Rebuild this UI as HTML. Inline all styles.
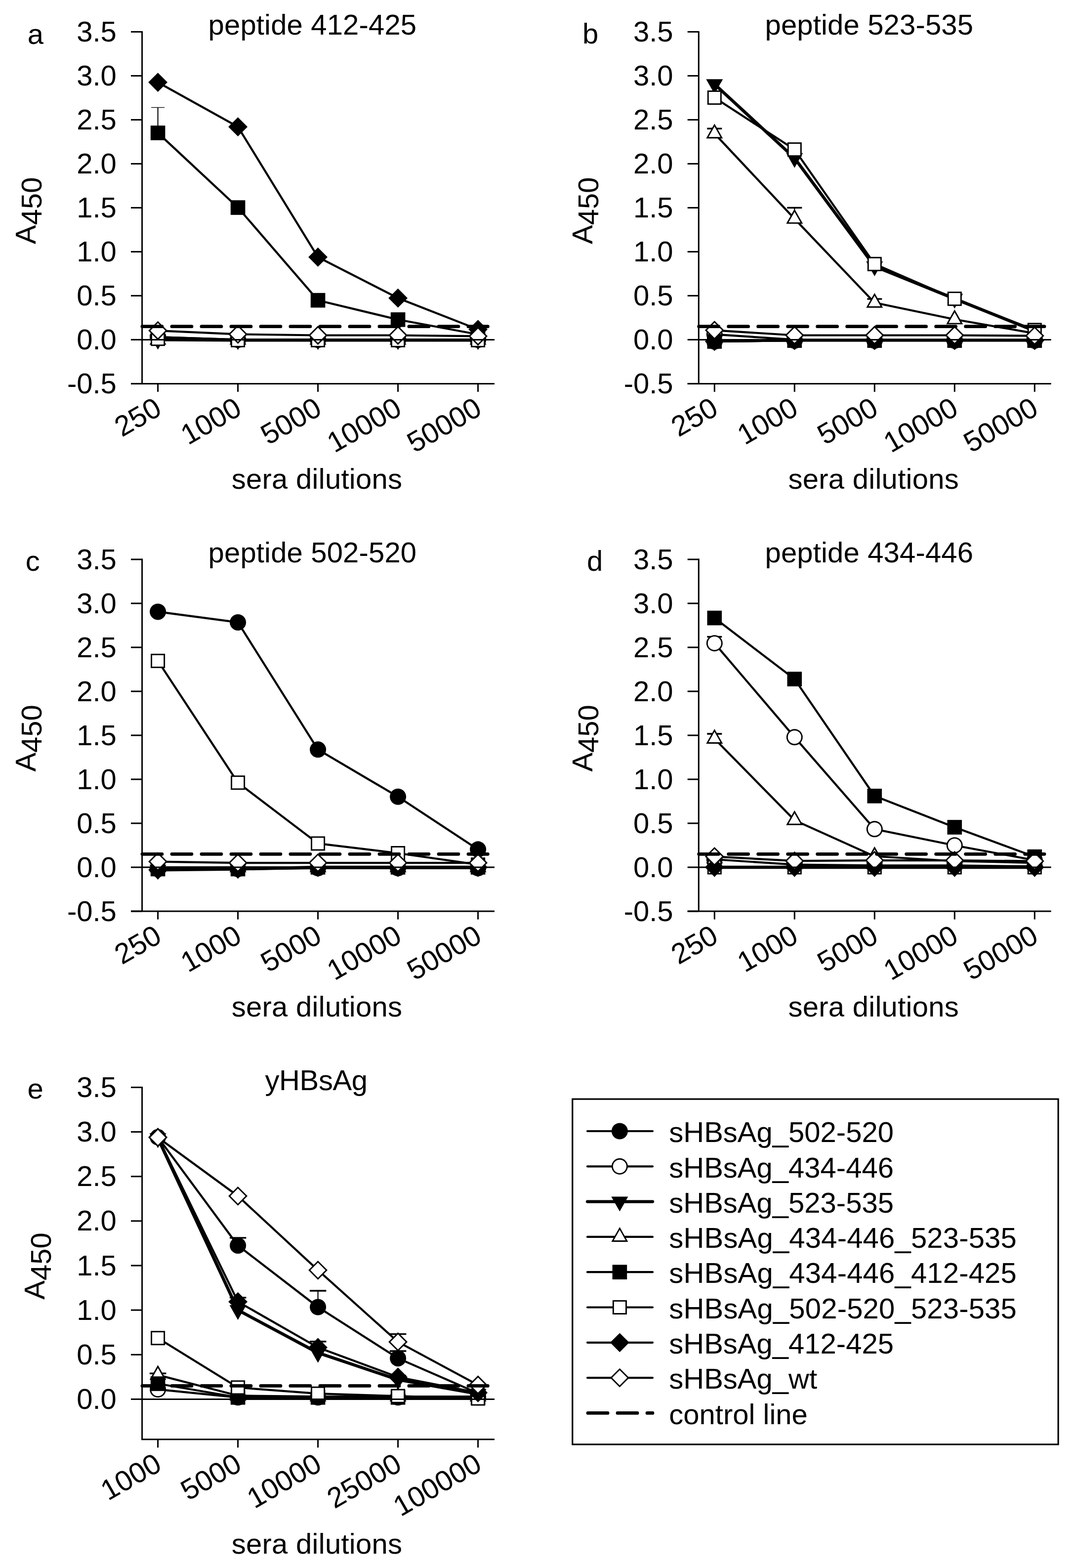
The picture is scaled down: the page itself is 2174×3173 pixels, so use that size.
<!DOCTYPE html>
<html><head><meta charset="utf-8"><title>ELISA panels</title>
<style>
html,body{margin:0;padding:0;background:#fff;}
svg{display:block;}
text{font-family:"Liberation Sans", Arial, sans-serif;fill:#000;font-size:58px;}
.ln{fill:none;stroke:#000;stroke-width:4.2;stroke-linejoin:round;}
.ln2{fill:none;stroke:#000;stroke-width:6.3;stroke-linejoin:round;}
.ax{fill:none;stroke:#000;stroke-width:3;}
.dash{fill:none;stroke:#000;stroke-width:6.7;stroke-linecap:round;stroke-dasharray:40.1 19.9;}
</style></head>
<body>
<svg width="2174" height="3173" viewBox="0 0 2174 3173">
<rect width="2174" height="3173" fill="#fff"/>
<path d="M319.6,682.1L481.6,687.4L643.6,687.4L805.6,687.4L967.6,687.4" class="ln"/>
<circle cx="319.60" cy="682.06" r="16.5"/>
<circle cx="481.60" cy="687.40" r="16.5"/>
<circle cx="643.60" cy="687.40" r="16.5"/>
<circle cx="805.60" cy="687.40" r="16.5"/>
<circle cx="967.60" cy="687.40" r="16.5"/>
<path d="M319.6,682.1L481.6,687.4L643.6,687.4L805.6,687.4L967.6,687.4" class="ln"/>
<circle cx="319.60" cy="682.06" r="16.5"/><circle cx="319.60" cy="682.06" r="13.60" fill="#fff"/>
<circle cx="481.60" cy="687.40" r="16.5"/><circle cx="481.60" cy="687.40" r="13.60" fill="#fff"/>
<circle cx="643.60" cy="687.40" r="16.5"/><circle cx="643.60" cy="687.40" r="13.60" fill="#fff"/>
<circle cx="805.60" cy="687.40" r="16.5"/><circle cx="805.60" cy="687.40" r="13.60" fill="#fff"/>
<circle cx="967.60" cy="687.40" r="16.5"/><circle cx="967.60" cy="687.40" r="13.60" fill="#fff"/>
<path d="M319.6,687.4L481.6,688.3L643.6,688.3L805.6,688.3L967.6,688.3" class="ln2"/>
<path d="M302.60,677.40L336.60,677.40L319.60,707.40Z"/>
<path d="M464.60,678.29L498.60,678.29L481.60,708.29Z"/>
<path d="M626.60,678.29L660.60,678.29L643.60,708.29Z"/>
<path d="M788.60,678.29L822.60,678.29L805.60,708.29Z"/>
<path d="M950.60,678.29L984.60,678.29L967.60,708.29Z"/>
<path d="M319.6,687.4L481.6,687.4L643.6,687.4L805.6,687.4L967.6,687.4" class="ln"/>
<path d="M302.60,697.40L336.60,697.40L319.60,667.40Z"/><path d="M307.58,694.50L331.62,694.50L319.60,673.28Z" fill="#fff"/>
<path d="M464.60,697.40L498.60,697.40L481.60,667.40Z"/><path d="M469.58,694.50L493.62,694.50L481.60,673.28Z" fill="#fff"/>
<path d="M626.60,697.40L660.60,697.40L643.60,667.40Z"/><path d="M631.58,694.50L655.62,694.50L643.60,673.28Z" fill="#fff"/>
<path d="M788.60,697.40L822.60,697.40L805.60,667.40Z"/><path d="M793.58,694.50L817.62,694.50L805.60,673.28Z" fill="#fff"/>
<path d="M950.60,697.40L984.60,697.40L967.60,667.40Z"/><path d="M955.58,694.50L979.62,694.50L967.60,673.28Z" fill="#fff"/>
<path d="M319.6,268.9L481.6,420.0L643.6,607.7L805.6,646.8L967.6,676.7" class="ln"/>
<path d="M319.6,268.9V217.5" stroke="#000" stroke-width="2.1"/>
<path d="M306.0,217.5H333.2" stroke="#000" stroke-width="1.3"/>
<rect x="304.80" y="254.12" width="29.6" height="29.6"/>
<rect x="466.80" y="405.24" width="29.6" height="29.6"/>
<rect x="628.80" y="592.86" width="29.6" height="29.6"/>
<rect x="790.80" y="632.02" width="29.6" height="29.6"/>
<rect x="952.80" y="661.92" width="29.6" height="29.6"/>
<path d="M319.6,685.6L481.6,688.3L643.6,688.3L805.6,688.3L967.6,688.3" class="ln"/>
<rect x="305.10" y="671.12" width="29.0" height="29.0"/><rect x="308.00" y="674.02" width="23.20" height="23.20" fill="#fff"/>
<rect x="467.10" y="673.79" width="29.0" height="29.0"/><rect x="470.00" y="676.69" width="23.20" height="23.20" fill="#fff"/>
<rect x="629.10" y="673.79" width="29.0" height="29.0"/><rect x="632.00" y="676.69" width="23.20" height="23.20" fill="#fff"/>
<rect x="791.10" y="673.79" width="29.0" height="29.0"/><rect x="794.00" y="676.69" width="23.20" height="23.20" fill="#fff"/>
<rect x="953.10" y="673.79" width="29.0" height="29.0"/><rect x="956.00" y="676.69" width="23.20" height="23.20" fill="#fff"/>
<path d="M319.6,166.6L481.6,256.6L643.6,520.3L805.6,603.2L967.6,666.6" class="ln"/>
<path d="M319.60,147.17L339.00,166.57L319.60,185.97L300.20,166.57Z"/>
<path d="M481.60,237.24L501.00,256.64L481.60,276.04L462.20,256.64Z"/>
<path d="M643.60,500.86L663.00,520.26L643.60,539.66L624.20,520.26Z"/>
<path d="M805.60,583.81L825.00,603.21L805.60,622.61L786.20,603.21Z"/>
<path d="M967.60,647.17L987.00,666.57L967.60,685.97L948.20,666.57Z"/>
<path d="M319.6,669.1L481.6,676.4L643.6,678.5L805.6,678.5L967.6,680.3" class="ln"/>
<path d="M319.60,649.67L339.00,669.07L319.60,688.47L300.20,669.07Z"/><path d="M319.60,653.77L334.90,669.07L319.60,684.37L304.30,669.07Z" fill="#fff"/>
<path d="M481.60,656.96L501.00,676.36L481.60,695.76L462.20,676.36Z"/><path d="M481.60,661.06L496.90,676.36L481.60,691.66L466.30,676.36Z" fill="#fff"/>
<path d="M643.60,659.10L663.00,678.50L643.60,697.90L624.20,678.50Z"/><path d="M643.60,663.20L658.90,678.50L643.60,693.80L628.30,678.50Z" fill="#fff"/>
<path d="M805.60,659.10L825.00,678.50L805.60,697.90L786.20,678.50Z"/><path d="M805.60,663.20L820.90,678.50L805.60,693.80L790.30,678.50Z" fill="#fff"/>
<path d="M967.60,660.88L987.00,680.28L967.60,699.68L948.20,680.28Z"/><path d="M967.60,664.98L982.90,680.28L967.60,695.58L952.30,680.28Z" fill="#fff"/>
<path d="M287.9,660.7H987.4" class="dash"/>
<path d="M287.6,687.4H1001.0" class="ax"/>
<path d="M287.6,62.9V776.4" class="ax"/>
<path d="M265.0,776.4H1001.0" class="ax"/>
<path d="M265.0,776.4H287.6" class="ax"/>
<text x="235.9" y="795.9" text-anchor="end">-0.5</text>
<path d="M265.0,687.4H287.6" class="ax"/>
<text x="235.9" y="706.9" text-anchor="end">0.0</text>
<path d="M265.0,598.4H287.6" class="ax"/>
<text x="235.9" y="617.9" text-anchor="end">0.5</text>
<path d="M265.0,509.4H287.6" class="ax"/>
<text x="235.9" y="528.9" text-anchor="end">1.0</text>
<path d="M265.0,420.4H287.6" class="ax"/>
<text x="235.9" y="439.9" text-anchor="end">1.5</text>
<path d="M265.0,331.4H287.6" class="ax"/>
<text x="235.9" y="350.9" text-anchor="end">2.0</text>
<path d="M265.0,242.4H287.6" class="ax"/>
<text x="235.9" y="261.9" text-anchor="end">2.5</text>
<path d="M265.0,153.4H287.6" class="ax"/>
<text x="235.9" y="172.9" text-anchor="end">3.0</text>
<path d="M265.0,64.4H287.6" class="ax"/>
<text x="235.9" y="83.9" text-anchor="end">3.5</text>
<path d="M319.6,776.4V792.9" class="ax"/>
<text transform="translate(330.6,836.9) rotate(-30)" text-anchor="end">250</text>
<path d="M481.6,776.4V792.9" class="ax"/>
<text transform="translate(492.6,836.9) rotate(-30)" text-anchor="end">1000</text>
<path d="M643.6,776.4V792.9" class="ax"/>
<text transform="translate(654.6,836.9) rotate(-30)" text-anchor="end">5000</text>
<path d="M805.6,776.4V792.9" class="ax"/>
<text transform="translate(816.6,836.9) rotate(-30)" text-anchor="end">10000</text>
<path d="M967.6,776.4V792.9" class="ax"/>
<text transform="translate(978.6,836.9) rotate(-30)" text-anchor="end">50000</text>
<text x="421.6" y="70.0" letter-spacing="0.16">peptide 412-425</text>
<text x="55.8" y="88.5">a</text>
<text x="468.7" y="989.1" letter-spacing="0.28">sera dilutions</text>
<text transform="translate(71.9,494.0) rotate(-90)">A<tspan dy="12">450</tspan></text>
<path d="M1446.3,691.0L1608.3,689.2L1770.3,689.2L1932.3,689.2L2094.3,689.2" class="ln"/>
<circle cx="1446.30" cy="690.96" r="16.5"/>
<circle cx="1608.30" cy="689.18" r="16.5"/>
<circle cx="1770.30" cy="689.18" r="16.5"/>
<circle cx="1932.30" cy="689.18" r="16.5"/>
<circle cx="2094.30" cy="689.18" r="16.5"/>
<path d="M1446.3,676.7L1608.3,687.4L1770.3,687.4L1932.3,687.4L2094.3,687.4" class="ln"/>
<circle cx="1446.30" cy="676.72" r="16.5"/><circle cx="1446.30" cy="676.72" r="13.60" fill="#fff"/>
<circle cx="1608.30" cy="687.40" r="16.5"/><circle cx="1608.30" cy="687.40" r="13.60" fill="#fff"/>
<circle cx="1770.30" cy="687.40" r="16.5"/><circle cx="1770.30" cy="687.40" r="13.60" fill="#fff"/>
<circle cx="1932.30" cy="687.40" r="16.5"/><circle cx="1932.30" cy="687.40" r="13.60" fill="#fff"/>
<circle cx="2094.30" cy="687.40" r="16.5"/><circle cx="2094.30" cy="687.40" r="13.60" fill="#fff"/>
<path d="M1446.3,170.3L1608.3,319.8L1770.3,538.9L1932.3,604.5L2094.3,669.6" class="ln2"/>
<path d="M1429.30,160.31L1463.30,160.31L1446.30,190.31Z"/>
<path d="M1591.30,309.83L1625.30,309.83L1608.30,339.83Z"/>
<path d="M1753.30,528.95L1787.30,528.95L1770.30,558.95Z"/>
<path d="M1915.30,594.45L1949.30,594.45L1932.30,624.45Z"/>
<path d="M2077.30,659.60L2111.30,659.60L2094.30,689.60Z"/>
<path d="M1446.3,270.2L1608.3,442.8L1770.3,612.6L1932.3,646.3L2094.3,674.6" class="ln"/>
<path d="M1446.3,270.2V260.2" stroke="#000" stroke-width="2.2"/>
<path d="M1431.3,260.2H1461.3" stroke="#000" stroke-width="3.4"/>
<path d="M1608.3,442.8V420.4" stroke="#000" stroke-width="2.2"/>
<path d="M1593.3,420.4H1623.3" stroke="#000" stroke-width="3.4"/>
<path d="M1770.3,612.6V605.0" stroke="#000" stroke-width="2.2"/>
<path d="M1755.3,605.0H1785.3" stroke="#000" stroke-width="3.4"/>
<path d="M1429.30,280.17L1463.30,280.17L1446.30,250.17Z"/><path d="M1434.28,277.27L1458.32,277.27L1446.30,256.05Z" fill="#fff"/>
<path d="M1591.30,452.83L1625.30,452.83L1608.30,422.83Z"/><path d="M1596.28,449.93L1620.32,449.93L1608.30,428.71Z" fill="#fff"/>
<path d="M1753.30,622.64L1787.30,622.64L1770.30,592.64Z"/><path d="M1758.28,619.74L1782.32,619.74L1770.30,598.52Z" fill="#fff"/>
<path d="M1915.30,656.28L1949.30,656.28L1932.30,626.28Z"/><path d="M1920.28,653.38L1944.32,653.38L1932.30,632.16Z" fill="#fff"/>
<path d="M2077.30,684.58L2111.30,684.58L2094.30,654.58Z"/><path d="M2082.28,681.68L2106.32,681.68L2094.30,660.47Z" fill="#fff"/>
<path d="M1446.3,691.0L1608.3,689.2L1770.3,689.2L1932.3,689.2L2094.3,689.2" class="ln"/>
<rect x="1431.50" y="676.16" width="29.6" height="29.6"/>
<rect x="1593.50" y="674.38" width="29.6" height="29.6"/>
<rect x="1755.50" y="674.38" width="29.6" height="29.6"/>
<rect x="1917.50" y="674.38" width="29.6" height="29.6"/>
<rect x="2079.50" y="674.38" width="29.6" height="29.6"/>
<path d="M1446.3,197.5L1608.3,302.6L1770.3,534.3L1932.3,604.6L2094.3,667.8" class="ln"/>
<rect x="1431.80" y="183.04" width="29.0" height="29.0"/><rect x="1434.70" y="185.94" width="23.20" height="23.20" fill="#fff"/>
<rect x="1593.80" y="288.06" width="29.0" height="29.0"/><rect x="1596.70" y="290.96" width="23.20" height="23.20" fill="#fff"/>
<rect x="1755.80" y="519.82" width="29.0" height="29.0"/><rect x="1758.70" y="522.72" width="23.20" height="23.20" fill="#fff"/>
<rect x="1917.80" y="590.13" width="29.0" height="29.0"/><rect x="1920.70" y="593.03" width="23.20" height="23.20" fill="#fff"/>
<rect x="2079.80" y="653.32" width="29.0" height="29.0"/><rect x="2082.70" y="656.22" width="23.20" height="23.20" fill="#fff"/>
<path d="M1446.3,691.0L1608.3,689.2L1770.3,689.2L1932.3,689.2L2094.3,689.2" class="ln"/>
<path d="M1446.30,671.56L1465.70,690.96L1446.30,710.36L1426.90,690.96Z"/>
<path d="M1608.30,669.78L1627.70,689.18L1608.30,708.58L1588.90,689.18Z"/>
<path d="M1770.30,669.78L1789.70,689.18L1770.30,708.58L1750.90,689.18Z"/>
<path d="M1932.30,669.78L1951.70,689.18L1932.30,708.58L1912.90,689.18Z"/>
<path d="M2094.30,669.78L2113.70,689.18L2094.30,708.58L2074.90,689.18Z"/>
<path d="M1446.3,668.4L1608.3,678.5L1770.3,678.5L1932.3,678.5L2094.3,679.6" class="ln"/>
<path d="M1446.30,648.95L1465.70,668.35L1446.30,687.75L1426.90,668.35Z"/><path d="M1446.30,653.05L1461.60,668.35L1446.30,683.65L1431.00,668.35Z" fill="#fff"/>
<path d="M1608.30,659.10L1627.70,678.50L1608.30,697.90L1588.90,678.50Z"/><path d="M1608.30,663.20L1623.60,678.50L1608.30,693.80L1593.00,678.50Z" fill="#fff"/>
<path d="M1770.30,659.10L1789.70,678.50L1770.30,697.90L1750.90,678.50Z"/><path d="M1770.30,663.20L1785.60,678.50L1770.30,693.80L1755.00,678.50Z" fill="#fff"/>
<path d="M1932.30,659.10L1951.70,678.50L1932.30,697.90L1912.90,678.50Z"/><path d="M1932.30,663.20L1947.60,678.50L1932.30,693.80L1917.00,678.50Z" fill="#fff"/>
<path d="M2094.30,660.17L2113.70,679.57L2094.30,698.97L2074.90,679.57Z"/><path d="M2094.30,664.27L2109.60,679.57L2094.30,694.87L2079.00,679.57Z" fill="#fff"/>
<path d="M1414.6,660.7H2114.1" class="dash"/>
<path d="M1414.3,687.4H2127.7" class="ax"/>
<path d="M1414.3,62.9V776.4" class="ax"/>
<path d="M1391.7,776.4H2127.7" class="ax"/>
<path d="M1391.7,776.4H1414.3" class="ax"/>
<text x="1362.6" y="795.9" text-anchor="end">-0.5</text>
<path d="M1391.7,687.4H1414.3" class="ax"/>
<text x="1362.6" y="706.9" text-anchor="end">0.0</text>
<path d="M1391.7,598.4H1414.3" class="ax"/>
<text x="1362.6" y="617.9" text-anchor="end">0.5</text>
<path d="M1391.7,509.4H1414.3" class="ax"/>
<text x="1362.6" y="528.9" text-anchor="end">1.0</text>
<path d="M1391.7,420.4H1414.3" class="ax"/>
<text x="1362.6" y="439.9" text-anchor="end">1.5</text>
<path d="M1391.7,331.4H1414.3" class="ax"/>
<text x="1362.6" y="350.9" text-anchor="end">2.0</text>
<path d="M1391.7,242.4H1414.3" class="ax"/>
<text x="1362.6" y="261.9" text-anchor="end">2.5</text>
<path d="M1391.7,153.4H1414.3" class="ax"/>
<text x="1362.6" y="172.9" text-anchor="end">3.0</text>
<path d="M1391.7,64.4H1414.3" class="ax"/>
<text x="1362.6" y="83.9" text-anchor="end">3.5</text>
<path d="M1446.3,776.4V792.9" class="ax"/>
<text transform="translate(1457.3,836.9) rotate(-30)" text-anchor="end">250</text>
<path d="M1608.3,776.4V792.9" class="ax"/>
<text transform="translate(1619.3,836.9) rotate(-30)" text-anchor="end">1000</text>
<path d="M1770.3,776.4V792.9" class="ax"/>
<text transform="translate(1781.3,836.9) rotate(-30)" text-anchor="end">5000</text>
<path d="M1932.3,776.4V792.9" class="ax"/>
<text transform="translate(1943.3,836.9) rotate(-30)" text-anchor="end">10000</text>
<path d="M2094.3,776.4V792.9" class="ax"/>
<text transform="translate(2105.3,836.9) rotate(-30)" text-anchor="end">50000</text>
<text x="1548.5" y="70.0" letter-spacing="0.16">peptide 523-535</text>
<text x="1179.0" y="88.0">b</text>
<text x="1595.4" y="989.1" letter-spacing="0.28">sera dilutions</text>
<text transform="translate(1198.6,494.0) rotate(-90)">A<tspan dy="12">450</tspan></text>
<path d="M319.6,1237.9L481.6,1259.4L643.6,1516.8L805.6,1612.2L967.6,1718.9" class="ln"/>
<circle cx="319.60" cy="1237.91" r="16.5"/>
<circle cx="481.60" cy="1259.45" r="16.5"/>
<circle cx="643.60" cy="1516.84" r="16.5"/>
<circle cx="805.60" cy="1612.24" r="16.5"/>
<circle cx="967.60" cy="1718.87" r="16.5"/>
<path d="M319.6,1758.6L481.6,1758.6L643.6,1756.8L805.6,1756.8L967.6,1756.8" class="ln"/>
<circle cx="319.60" cy="1758.56" r="16.5"/><circle cx="319.60" cy="1758.56" r="13.60" fill="#fff"/>
<circle cx="481.60" cy="1758.56" r="16.5"/><circle cx="481.60" cy="1758.56" r="13.60" fill="#fff"/>
<circle cx="643.60" cy="1756.78" r="16.5"/><circle cx="643.60" cy="1756.78" r="13.60" fill="#fff"/>
<circle cx="805.60" cy="1756.78" r="16.5"/><circle cx="805.60" cy="1756.78" r="13.60" fill="#fff"/>
<circle cx="967.60" cy="1756.78" r="16.5"/><circle cx="967.60" cy="1756.78" r="13.60" fill="#fff"/>
<path d="M319.6,1760.3L481.6,1758.6L643.6,1755.0L805.6,1755.0L967.6,1755.0" class="ln2"/>
<path d="M302.60,1750.34L336.60,1750.34L319.60,1780.34Z"/>
<path d="M464.60,1748.56L498.60,1748.56L481.60,1778.56Z"/>
<path d="M626.60,1745.00L660.60,1745.00L643.60,1775.00Z"/>
<path d="M788.60,1745.00L822.60,1745.00L805.60,1775.00Z"/>
<path d="M950.60,1745.00L984.60,1745.00L967.60,1775.00Z"/>
<path d="M319.6,1755.0L481.6,1755.0L643.6,1755.0L805.6,1755.0L967.6,1755.0" class="ln"/>
<path d="M302.60,1765.00L336.60,1765.00L319.60,1735.00Z"/><path d="M307.58,1762.10L331.62,1762.10L319.60,1740.88Z" fill="#fff"/>
<path d="M464.60,1765.00L498.60,1765.00L481.60,1735.00Z"/><path d="M469.58,1762.10L493.62,1762.10L481.60,1740.88Z" fill="#fff"/>
<path d="M626.60,1765.00L660.60,1765.00L643.60,1735.00Z"/><path d="M631.58,1762.10L655.62,1762.10L643.60,1740.88Z" fill="#fff"/>
<path d="M788.60,1765.00L822.60,1765.00L805.60,1735.00Z"/><path d="M793.58,1762.10L817.62,1762.10L805.60,1740.88Z" fill="#fff"/>
<path d="M950.60,1765.00L984.60,1765.00L967.60,1735.00Z"/><path d="M955.58,1762.10L979.62,1762.10L967.60,1740.88Z" fill="#fff"/>
<path d="M319.6,1758.6L481.6,1758.6L643.6,1755.0L805.6,1755.0L967.6,1755.0" class="ln"/>
<rect x="304.80" y="1743.76" width="29.6" height="29.6"/>
<rect x="466.80" y="1743.76" width="29.6" height="29.6"/>
<rect x="628.80" y="1740.20" width="29.6" height="29.6"/>
<rect x="790.80" y="1740.20" width="29.6" height="29.6"/>
<rect x="952.80" y="1740.20" width="29.6" height="29.6"/>
<path d="M319.6,1337.4L481.6,1583.8L643.6,1706.9L805.6,1726.5L967.6,1749.7" class="ln"/>
<rect x="305.10" y="1322.91" width="29.0" height="29.0"/><rect x="308.00" y="1325.81" width="23.20" height="23.20" fill="#fff"/>
<rect x="467.10" y="1569.26" width="29.0" height="29.0"/><rect x="470.00" y="1572.16" width="23.20" height="23.20" fill="#fff"/>
<rect x="629.10" y="1692.44" width="29.0" height="29.0"/><rect x="632.00" y="1695.34" width="23.20" height="23.20" fill="#fff"/>
<rect x="791.10" y="1712.02" width="29.0" height="29.0"/><rect x="794.00" y="1714.92" width="23.20" height="23.20" fill="#fff"/>
<rect x="953.10" y="1735.16" width="29.0" height="29.0"/><rect x="956.00" y="1738.06" width="23.20" height="23.20" fill="#fff"/>
<path d="M319.6,1760.3L481.6,1758.6L643.6,1755.0L805.6,1755.0L967.6,1755.0" class="ln"/>
<path d="M319.60,1740.94L339.00,1760.34L319.60,1779.74L300.20,1760.34Z"/>
<path d="M481.60,1739.16L501.00,1758.56L481.60,1777.96L462.20,1758.56Z"/>
<path d="M643.60,1735.60L663.00,1755.00L643.60,1774.40L624.20,1755.00Z"/>
<path d="M805.60,1735.60L825.00,1755.00L805.60,1774.40L786.20,1755.00Z"/>
<path d="M967.60,1735.60L987.00,1755.00L967.60,1774.40L948.20,1755.00Z"/>
<path d="M319.6,1743.6L481.6,1746.1L643.6,1746.1L805.6,1746.1L967.6,1746.1" class="ln"/>
<path d="M319.60,1724.21L339.00,1743.61L319.60,1763.01L300.20,1743.61Z"/><path d="M319.60,1728.31L334.90,1743.61L319.60,1758.91L304.30,1743.61Z" fill="#fff"/>
<path d="M481.60,1726.70L501.00,1746.10L481.60,1765.50L462.20,1746.10Z"/><path d="M481.60,1730.80L496.90,1746.10L481.60,1761.40L466.30,1746.10Z" fill="#fff"/>
<path d="M643.60,1726.70L663.00,1746.10L643.60,1765.50L624.20,1746.10Z"/><path d="M643.60,1730.80L658.90,1746.10L643.60,1761.40L628.30,1746.10Z" fill="#fff"/>
<path d="M805.60,1726.70L825.00,1746.10L805.60,1765.50L786.20,1746.10Z"/><path d="M805.60,1730.80L820.90,1746.10L805.60,1761.40L790.30,1746.10Z" fill="#fff"/>
<path d="M967.60,1726.70L987.00,1746.10L967.60,1765.50L948.20,1746.10Z"/><path d="M967.60,1730.80L982.90,1746.10L967.60,1761.40L952.30,1746.10Z" fill="#fff"/>
<path d="M287.9,1728.3H987.4" class="dash"/>
<path d="M287.6,1755.0H1001.0" class="ax"/>
<path d="M287.6,1130.5V1844.0" class="ax"/>
<path d="M265.0,1844.0H1001.0" class="ax"/>
<path d="M265.0,1844.0H287.6" class="ax"/>
<text x="235.9" y="1863.5" text-anchor="end">-0.5</text>
<path d="M265.0,1755.0H287.6" class="ax"/>
<text x="235.9" y="1774.5" text-anchor="end">0.0</text>
<path d="M265.0,1666.0H287.6" class="ax"/>
<text x="235.9" y="1685.5" text-anchor="end">0.5</text>
<path d="M265.0,1577.0H287.6" class="ax"/>
<text x="235.9" y="1596.5" text-anchor="end">1.0</text>
<path d="M265.0,1488.0H287.6" class="ax"/>
<text x="235.9" y="1507.5" text-anchor="end">1.5</text>
<path d="M265.0,1399.0H287.6" class="ax"/>
<text x="235.9" y="1418.5" text-anchor="end">2.0</text>
<path d="M265.0,1310.0H287.6" class="ax"/>
<text x="235.9" y="1329.5" text-anchor="end">2.5</text>
<path d="M265.0,1221.0H287.6" class="ax"/>
<text x="235.9" y="1240.5" text-anchor="end">3.0</text>
<path d="M265.0,1132.0H287.6" class="ax"/>
<text x="235.9" y="1151.5" text-anchor="end">3.5</text>
<path d="M319.6,1844.0V1860.5" class="ax"/>
<text transform="translate(330.6,1904.5) rotate(-30)" text-anchor="end">250</text>
<path d="M481.6,1844.0V1860.5" class="ax"/>
<text transform="translate(492.6,1904.5) rotate(-30)" text-anchor="end">1000</text>
<path d="M643.6,1844.0V1860.5" class="ax"/>
<text transform="translate(654.6,1904.5) rotate(-30)" text-anchor="end">5000</text>
<path d="M805.6,1844.0V1860.5" class="ax"/>
<text transform="translate(816.6,1904.5) rotate(-30)" text-anchor="end">10000</text>
<path d="M967.6,1844.0V1860.5" class="ax"/>
<text transform="translate(978.6,1904.5) rotate(-30)" text-anchor="end">50000</text>
<text x="421.6" y="1137.8" letter-spacing="0.16">peptide 502-520</text>
<text x="51.8" y="1155.3">c</text>
<text x="468.7" y="2056.7" letter-spacing="0.28">sera dilutions</text>
<text transform="translate(71.9,1561.6) rotate(-90)">A<tspan dy="12">450</tspan></text>
<path d="M1446.3,1739.0L1608.3,1749.7L1770.3,1751.4L1932.3,1751.4L2094.3,1753.2" class="ln"/>
<circle cx="1446.30" cy="1738.98" r="16.5"/>
<circle cx="1608.30" cy="1749.66" r="16.5"/>
<circle cx="1770.30" cy="1751.44" r="16.5"/>
<circle cx="1932.30" cy="1751.44" r="16.5"/>
<circle cx="2094.30" cy="1753.22" r="16.5"/>
<path d="M1446.3,1301.6L1608.3,1491.7L1770.3,1677.7L1932.3,1710.7L2094.3,1740.8" class="ln"/>
<path d="M1446.3,1301.6V1288.6" stroke="#000" stroke-width="2.2"/>
<path d="M1431.3,1288.6H1461.3" stroke="#000" stroke-width="3.4"/>
<circle cx="1446.30" cy="1301.63" r="16.5"/><circle cx="1446.30" cy="1301.63" r="13.60" fill="#fff"/>
<circle cx="1608.30" cy="1491.74" r="16.5"/><circle cx="1608.30" cy="1491.74" r="13.60" fill="#fff"/>
<circle cx="1770.30" cy="1677.75" r="16.5"/><circle cx="1770.30" cy="1677.75" r="13.60" fill="#fff"/>
<circle cx="1932.30" cy="1710.68" r="16.5"/><circle cx="1932.30" cy="1710.68" r="13.60" fill="#fff"/>
<circle cx="2094.30" cy="1740.76" r="16.5"/><circle cx="2094.30" cy="1740.76" r="13.60" fill="#fff"/>
<path d="M1446.3,1755.0L1608.3,1755.0L1770.3,1755.0L1932.3,1755.0L2094.3,1755.0" class="ln2"/>
<path d="M1429.30,1745.00L1463.30,1745.00L1446.30,1775.00Z"/>
<path d="M1591.30,1745.00L1625.30,1745.00L1608.30,1775.00Z"/>
<path d="M1753.30,1745.00L1787.30,1745.00L1770.30,1775.00Z"/>
<path d="M1915.30,1745.00L1949.30,1745.00L1932.30,1775.00Z"/>
<path d="M2077.30,1745.00L2111.30,1745.00L2094.30,1775.00Z"/>
<path d="M1446.3,1494.9L1608.3,1659.8L1770.3,1732.8L1932.3,1742.5L2094.3,1746.1" class="ln"/>
<path d="M1446.3,1494.9V1485.0" stroke="#000" stroke-width="2.2"/>
<path d="M1431.3,1485.0H1461.3" stroke="#000" stroke-width="3.6"/>
<path d="M1429.30,1504.94L1463.30,1504.94L1446.30,1474.94Z"/><path d="M1434.28,1502.04L1458.32,1502.04L1446.30,1480.82Z" fill="#fff"/>
<path d="M1591.30,1669.77L1625.30,1669.77L1608.30,1639.77Z"/><path d="M1596.28,1666.87L1620.32,1666.87L1608.30,1645.65Z" fill="#fff"/>
<path d="M1753.30,1742.75L1787.30,1742.75L1770.30,1712.75Z"/><path d="M1758.28,1739.85L1782.32,1739.85L1770.30,1718.63Z" fill="#fff"/>
<path d="M1915.30,1752.54L1949.30,1752.54L1932.30,1722.54Z"/><path d="M1920.28,1749.64L1944.32,1749.64L1932.30,1728.42Z" fill="#fff"/>
<path d="M2077.30,1756.10L2111.30,1756.10L2094.30,1726.10Z"/><path d="M2082.28,1753.20L2106.32,1753.20L2094.30,1731.98Z" fill="#fff"/>
<path d="M1446.3,1250.5L1608.3,1374.1L1770.3,1610.8L1932.3,1674.0L2094.3,1733.6" class="ln"/>
<rect x="1431.50" y="1235.75" width="29.6" height="29.6"/>
<rect x="1593.50" y="1359.28" width="29.6" height="29.6"/>
<rect x="1755.50" y="1596.02" width="29.6" height="29.6"/>
<rect x="1917.50" y="1659.21" width="29.6" height="29.6"/>
<rect x="2079.50" y="1718.84" width="29.6" height="29.6"/>
<path d="M1446.3,1755.0L1608.3,1755.0L1770.3,1755.0L1932.3,1755.0L2094.3,1755.0" class="ln"/>
<rect x="1431.80" y="1740.50" width="29.0" height="29.0"/><rect x="1434.70" y="1743.40" width="23.20" height="23.20" fill="#fff"/>
<rect x="1593.80" y="1740.50" width="29.0" height="29.0"/><rect x="1596.70" y="1743.40" width="23.20" height="23.20" fill="#fff"/>
<rect x="1755.80" y="1740.50" width="29.0" height="29.0"/><rect x="1758.70" y="1743.40" width="23.20" height="23.20" fill="#fff"/>
<rect x="1917.80" y="1740.50" width="29.0" height="29.0"/><rect x="1920.70" y="1743.40" width="23.20" height="23.20" fill="#fff"/>
<rect x="2079.80" y="1740.50" width="29.0" height="29.0"/><rect x="2082.70" y="1743.40" width="23.20" height="23.20" fill="#fff"/>
<path d="M1446.3,1755.0L1608.3,1755.0L1770.3,1755.0L1932.3,1755.0L2094.3,1755.0" class="ln"/>
<path d="M1446.30,1735.60L1465.70,1755.00L1446.30,1774.40L1426.90,1755.00Z"/>
<path d="M1608.30,1735.60L1627.70,1755.00L1608.30,1774.40L1588.90,1755.00Z"/>
<path d="M1770.30,1735.60L1789.70,1755.00L1770.30,1774.40L1750.90,1755.00Z"/>
<path d="M1932.30,1735.60L1951.70,1755.00L1932.30,1774.40L1912.90,1755.00Z"/>
<path d="M2094.30,1735.60L2113.70,1755.00L2094.30,1774.40L2074.90,1755.00Z"/>
<path d="M1446.3,1733.3L1608.3,1742.2L1770.3,1741.1L1932.3,1741.1L2094.3,1742.5" class="ln"/>
<path d="M1446.30,1713.88L1465.70,1733.28L1446.30,1752.68L1426.90,1733.28Z"/><path d="M1446.30,1717.98L1461.60,1733.28L1446.30,1748.58L1431.00,1733.28Z" fill="#fff"/>
<path d="M1608.30,1722.78L1627.70,1742.18L1608.30,1761.58L1588.90,1742.18Z"/><path d="M1608.30,1726.88L1623.60,1742.18L1608.30,1757.48L1593.00,1742.18Z" fill="#fff"/>
<path d="M1770.30,1721.72L1789.70,1741.12L1770.30,1760.52L1750.90,1741.12Z"/><path d="M1770.30,1725.82L1785.60,1741.12L1770.30,1756.42L1755.00,1741.12Z" fill="#fff"/>
<path d="M1932.30,1721.72L1951.70,1741.12L1932.30,1760.52L1912.90,1741.12Z"/><path d="M1932.30,1725.82L1947.60,1741.12L1932.30,1756.42L1917.00,1741.12Z" fill="#fff"/>
<path d="M2094.30,1723.14L2113.70,1742.54L2094.30,1761.94L2074.90,1742.54Z"/><path d="M2094.30,1727.24L2109.60,1742.54L2094.30,1757.84L2079.00,1742.54Z" fill="#fff"/>
<path d="M1414.6,1728.3H2114.1" class="dash"/>
<path d="M1414.3,1755.0H2127.7" class="ax"/>
<path d="M1414.3,1130.5V1844.0" class="ax"/>
<path d="M1391.7,1844.0H2127.7" class="ax"/>
<path d="M1391.7,1844.0H1414.3" class="ax"/>
<text x="1362.6" y="1863.5" text-anchor="end">-0.5</text>
<path d="M1391.7,1755.0H1414.3" class="ax"/>
<text x="1362.6" y="1774.5" text-anchor="end">0.0</text>
<path d="M1391.7,1666.0H1414.3" class="ax"/>
<text x="1362.6" y="1685.5" text-anchor="end">0.5</text>
<path d="M1391.7,1577.0H1414.3" class="ax"/>
<text x="1362.6" y="1596.5" text-anchor="end">1.0</text>
<path d="M1391.7,1488.0H1414.3" class="ax"/>
<text x="1362.6" y="1507.5" text-anchor="end">1.5</text>
<path d="M1391.7,1399.0H1414.3" class="ax"/>
<text x="1362.6" y="1418.5" text-anchor="end">2.0</text>
<path d="M1391.7,1310.0H1414.3" class="ax"/>
<text x="1362.6" y="1329.5" text-anchor="end">2.5</text>
<path d="M1391.7,1221.0H1414.3" class="ax"/>
<text x="1362.6" y="1240.5" text-anchor="end">3.0</text>
<path d="M1391.7,1132.0H1414.3" class="ax"/>
<text x="1362.6" y="1151.5" text-anchor="end">3.5</text>
<path d="M1446.3,1844.0V1860.5" class="ax"/>
<text transform="translate(1457.3,1904.5) rotate(-30)" text-anchor="end">250</text>
<path d="M1608.3,1844.0V1860.5" class="ax"/>
<text transform="translate(1619.3,1904.5) rotate(-30)" text-anchor="end">1000</text>
<path d="M1770.3,1844.0V1860.5" class="ax"/>
<text transform="translate(1781.3,1904.5) rotate(-30)" text-anchor="end">5000</text>
<path d="M1932.3,1844.0V1860.5" class="ax"/>
<text transform="translate(1943.3,1904.5) rotate(-30)" text-anchor="end">10000</text>
<path d="M2094.3,1844.0V1860.5" class="ax"/>
<text transform="translate(2105.3,1904.5) rotate(-30)" text-anchor="end">50000</text>
<text x="1548.5" y="1137.8" letter-spacing="0.16">peptide 434-446</text>
<text x="1187.9" y="1155.0">d</text>
<text x="1595.4" y="2056.7" letter-spacing="0.28">sera dilutions</text>
<text transform="translate(1198.6,1561.6) rotate(-90)">A<tspan dy="12">450</tspan></text>
<path d="M319.6,2301.3L481.6,2520.4L643.6,2645.0L805.6,2748.6L967.6,2819.3" class="ln"/>
<path d="M481.6,2520.4V2504.9" stroke="#000" stroke-width="2.2"/>
<path d="M464.9,2504.9H498.4" stroke="#000" stroke-width="3.4"/>
<path d="M643.6,2645.0V2612.0" stroke="#000" stroke-width="2.2"/>
<path d="M626.9,2612.0H660.4" stroke="#000" stroke-width="3.4"/>
<path d="M805.6,2748.6V2734.0" stroke="#000" stroke-width="2.2"/>
<path d="M788.9,2734.0H822.4" stroke="#000" stroke-width="3.4"/>
<circle cx="319.60" cy="2301.35" r="16.5"/>
<circle cx="481.60" cy="2520.40" r="16.5"/>
<circle cx="643.60" cy="2644.98" r="16.5"/>
<circle cx="805.60" cy="2748.65" r="16.5"/>
<circle cx="967.60" cy="2819.32" r="16.5"/>
<path d="M319.6,2811.6L481.6,2827.8L643.6,2827.8L805.6,2827.8L967.6,2827.8" class="ln"/>
<circle cx="319.60" cy="2811.57" r="16.5"/><circle cx="319.60" cy="2811.57" r="13.60" fill="#fff"/>
<circle cx="481.60" cy="2827.79" r="16.5"/><circle cx="481.60" cy="2827.79" r="13.60" fill="#fff"/>
<circle cx="643.60" cy="2827.79" r="16.5"/><circle cx="643.60" cy="2827.79" r="13.60" fill="#fff"/>
<circle cx="805.60" cy="2827.79" r="16.5"/><circle cx="805.60" cy="2827.79" r="13.60" fill="#fff"/>
<circle cx="967.60" cy="2827.79" r="16.5"/><circle cx="967.60" cy="2827.79" r="13.60" fill="#fff"/>
<path d="M319.6,2303.2L481.6,2651.1L643.6,2737.6L805.6,2791.9L967.6,2820.6" class="ln2"/>
<path d="M302.60,2293.15L336.60,2293.15L319.60,2323.15Z"/>
<path d="M464.60,2641.11L498.60,2641.11L481.60,2671.11Z"/>
<path d="M626.60,2727.65L660.60,2727.65L643.60,2757.65Z"/>
<path d="M788.60,2781.92L822.60,2781.92L805.60,2811.92Z"/>
<path d="M950.60,2810.58L984.60,2810.58L967.60,2840.58Z"/>
<path d="M319.6,2782.4L481.6,2824.2L643.6,2826.0L805.6,2826.0L967.6,2826.0" class="ln"/>
<path d="M319.6,2782.4V2779.3" stroke="#000" stroke-width="2.2"/>
<path d="M302.9,2779.3H336.4" stroke="#000" stroke-width="3.4"/>
<path d="M302.60,2792.36L336.60,2792.36L319.60,2762.36Z"/><path d="M307.58,2789.46L331.62,2789.46L319.60,2768.24Z" fill="#fff"/>
<path d="M464.60,2834.19L498.60,2834.19L481.60,2804.19Z"/><path d="M469.58,2831.29L493.62,2831.29L481.60,2810.07Z" fill="#fff"/>
<path d="M626.60,2835.99L660.60,2835.99L643.60,2805.99Z"/><path d="M631.58,2833.09L655.62,2833.09L643.60,2811.87Z" fill="#fff"/>
<path d="M788.60,2835.99L822.60,2835.99L805.60,2805.99Z"/><path d="M793.58,2833.09L817.62,2833.09L805.60,2811.87Z" fill="#fff"/>
<path d="M950.60,2835.99L984.60,2835.99L967.60,2805.99Z"/><path d="M955.58,2833.09L979.62,2833.09L967.60,2811.87Z" fill="#fff"/>
<path d="M319.6,2800.0L481.6,2827.8L643.6,2827.8L805.6,2827.8L967.6,2827.8" class="ln"/>
<rect x="304.80" y="2785.23" width="29.6" height="29.6"/>
<rect x="466.80" y="2812.99" width="29.6" height="29.6"/>
<rect x="628.80" y="2812.99" width="29.6" height="29.6"/>
<rect x="790.80" y="2812.99" width="29.6" height="29.6"/>
<rect x="952.80" y="2812.99" width="29.6" height="29.6"/>
<path d="M319.6,2707.7L481.6,2807.8L643.6,2820.2L805.6,2825.1L967.6,2830.0" class="ln"/>
<rect x="305.10" y="2693.22" width="29.0" height="29.0"/><rect x="308.00" y="2696.12" width="23.20" height="23.20" fill="#fff"/>
<rect x="467.10" y="2793.28" width="29.0" height="29.0"/><rect x="470.00" y="2796.18" width="23.20" height="23.20" fill="#fff"/>
<rect x="629.10" y="2805.72" width="29.0" height="29.0"/><rect x="632.00" y="2808.62" width="23.20" height="23.20" fill="#fff"/>
<rect x="791.10" y="2810.59" width="29.0" height="29.0"/><rect x="794.00" y="2813.49" width="23.20" height="23.20" fill="#fff"/>
<rect x="953.10" y="2815.46" width="29.0" height="29.0"/><rect x="956.00" y="2818.36" width="23.20" height="23.20" fill="#fff"/>
<path d="M319.6,2301.3L481.6,2634.2L643.6,2726.7L805.6,2786.7L967.6,2818.2" class="ln"/>
<path d="M481.6,2634.2V2625.9" stroke="#000" stroke-width="2.2"/>
<path d="M464.9,2625.9H498.4" stroke="#000" stroke-width="3.4"/>
<path d="M643.6,2726.7V2714.8" stroke="#000" stroke-width="2.2"/>
<path d="M626.9,2714.8H660.4" stroke="#000" stroke-width="3.4"/>
<path d="M319.60,2281.95L339.00,2301.35L319.60,2320.75L300.20,2301.35Z"/>
<path d="M481.60,2614.76L501.00,2634.16L481.60,2653.56L462.20,2634.16Z"/>
<path d="M643.60,2707.25L663.00,2726.65L643.60,2746.05L624.20,2726.65Z"/>
<path d="M805.60,2767.29L825.00,2786.69L805.60,2806.09L786.20,2786.69Z"/>
<path d="M967.60,2798.84L987.00,2818.24L967.60,2837.64L948.20,2818.24Z"/>
<path d="M319.6,2301.7L481.6,2420.3L643.6,2570.3L805.6,2715.5L967.6,2802.7" class="ln"/>
<path d="M805.6,2715.5V2699.6" stroke="#000" stroke-width="2.2"/>
<path d="M788.9,2699.6H822.4" stroke="#000" stroke-width="3.4"/>
<path d="M319.60,2282.31L339.00,2301.71L319.60,2321.11L300.20,2301.71Z"/><path d="M319.60,2286.41L334.90,2301.71L319.60,2317.01L304.30,2301.71Z" fill="#fff"/>
<path d="M481.60,2400.94L501.00,2420.34L481.60,2439.74L462.20,2420.34Z"/><path d="M481.60,2405.04L496.90,2420.34L481.60,2435.64L466.30,2420.34Z" fill="#fff"/>
<path d="M643.60,2550.94L663.00,2570.34L643.60,2589.74L624.20,2570.34Z"/><path d="M643.60,2555.04L658.90,2570.34L643.60,2585.64L628.30,2570.34Z" fill="#fff"/>
<path d="M805.60,2696.07L825.00,2715.47L805.60,2734.87L786.20,2715.47Z"/><path d="M805.60,2700.17L820.90,2715.47L805.60,2730.77L790.30,2715.47Z" fill="#fff"/>
<path d="M967.60,2783.33L987.00,2802.73L967.60,2822.13L948.20,2802.73Z"/><path d="M967.60,2787.43L982.90,2802.73L967.60,2818.03L952.30,2802.73Z" fill="#fff"/>
<path d="M287.9,2804.4H987.4" class="dash"/>
<path d="M287.6,2831.4H1001.0" class="ax"/>
<path d="M287.6,2198.9V2912.8" class="ax"/>
<path d="M286.1,2912.8H1001.0" class="ax"/>
<path d="M265.0,2831.4H287.6" class="ax"/>
<text x="235.9" y="2850.9" text-anchor="end">0.0</text>
<path d="M265.0,2741.3H287.6" class="ax"/>
<text x="235.9" y="2760.8" text-anchor="end">0.5</text>
<path d="M265.0,2651.1H287.6" class="ax"/>
<text x="235.9" y="2670.6" text-anchor="end">1.0</text>
<path d="M265.0,2561.0H287.6" class="ax"/>
<text x="235.9" y="2580.5" text-anchor="end">1.5</text>
<path d="M265.0,2470.8H287.6" class="ax"/>
<text x="235.9" y="2490.3" text-anchor="end">2.0</text>
<path d="M265.0,2380.7H287.6" class="ax"/>
<text x="235.9" y="2400.2" text-anchor="end">2.5</text>
<path d="M265.0,2290.5H287.6" class="ax"/>
<text x="235.9" y="2310.0" text-anchor="end">3.0</text>
<path d="M265.0,2200.4H287.6" class="ax"/>
<text x="235.9" y="2219.9" text-anchor="end">3.5</text>
<path d="M319.6,2912.8V2929.3" class="ax"/>
<text transform="translate(330.6,2973.3) rotate(-30)" text-anchor="end">1000</text>
<path d="M481.6,2912.8V2929.3" class="ax"/>
<text transform="translate(492.6,2973.3) rotate(-30)" text-anchor="end">5000</text>
<path d="M643.6,2912.8V2929.3" class="ax"/>
<text transform="translate(654.6,2973.3) rotate(-30)" text-anchor="end">10000</text>
<path d="M805.6,2912.8V2929.3" class="ax"/>
<text transform="translate(816.6,2973.3) rotate(-30)" text-anchor="end">25000</text>
<path d="M967.6,2912.8V2929.3" class="ax"/>
<text transform="translate(978.6,2973.3) rotate(-30)" text-anchor="end">100000</text>
<text x="536.4" y="2206.0" letter-spacing="-0.36">yHBsAg</text>
<text x="55.5" y="2223.0">e</text>
<text x="468.7" y="3143.5" letter-spacing="0.28">sera dilutions</text>
<text transform="translate(90.0,2629.7) rotate(-90)">A<tspan dy="13">450</tspan></text>
<rect x="1158.8" y="2224.1" width="983.3" height="698.8" fill="none" stroke="#000" stroke-width="3.2"/>
<path d="M1189,2289.0H1321" class="ln" stroke-linecap="round"/>
<circle cx="1254.40" cy="2289.00" r="16.5"/>
<text x="1354.3" y="2311.2">sHBsAg_502-520</text>
<path d="M1189,2360.3H1321" class="ln" stroke-linecap="round"/>
<circle cx="1254.40" cy="2360.30" r="16.5"/><circle cx="1254.40" cy="2360.30" r="13.60" fill="#fff"/>
<text x="1354.3" y="2382.5">sHBsAg_434-446</text>
<path d="M1189,2431.6H1321" class="ln2" stroke-linecap="round"/>
<path d="M1237.40,2421.60L1271.40,2421.60L1254.40,2451.60Z"/>
<text x="1354.3" y="2453.8">sHBsAg_523-535</text>
<path d="M1189,2502.9H1321" class="ln" stroke-linecap="round"/>
<path d="M1237.40,2512.90L1271.40,2512.90L1254.40,2482.90Z"/><path d="M1242.38,2510.00L1266.42,2510.00L1254.40,2488.78Z" fill="#fff"/>
<text x="1354.3" y="2525.1" letter-spacing="0.18">sHBsAg_434-446_523-535</text>
<path d="M1189,2574.2H1321" class="ln" stroke-linecap="round"/>
<rect x="1239.60" y="2559.40" width="29.6" height="29.6"/>
<text x="1354.3" y="2596.4" letter-spacing="0.18">sHBsAg_434-446_412-425</text>
<path d="M1189,2645.5H1321" class="ln" stroke-linecap="round"/>
<rect x="1239.90" y="2631.00" width="29.0" height="29.0"/><rect x="1242.80" y="2633.90" width="23.20" height="23.20" fill="#fff"/>
<text x="1354.3" y="2667.7" letter-spacing="0.18">sHBsAg_502-520_523-535</text>
<path d="M1189,2716.8H1321" class="ln" stroke-linecap="round"/>
<path d="M1254.40,2697.40L1273.80,2716.80L1254.40,2736.20L1235.00,2716.80Z"/>
<text x="1354.3" y="2739.0">sHBsAg_412-425</text>
<path d="M1189,2788.1H1321" class="ln" stroke-linecap="round"/>
<path d="M1254.40,2768.70L1273.80,2788.10L1254.40,2807.50L1235.00,2788.10Z"/><path d="M1254.40,2772.80L1269.70,2788.10L1254.40,2803.40L1239.10,2788.10Z" fill="#fff"/>
<text x="1354.3" y="2810.3">sHBsAg_wt</text>
<path d="M1190,2859.4H1321" class="dash"/>
<text x="1354.3" y="2881.6">control line</text>
</svg>
</body></html>
